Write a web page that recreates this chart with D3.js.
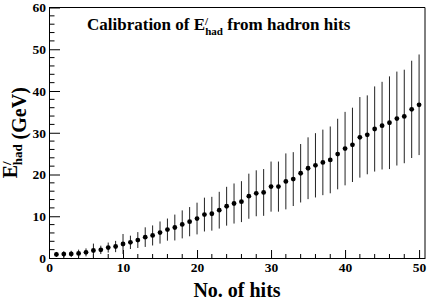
<!DOCTYPE html>
<html>
<head>
<meta charset="utf-8">
<script src="https://cdn.jsdelivr.net/npm/d3@7"></script>
<style>
  body { margin: 0; background: #fff; }
</style>
</head>
<body>
<div id="chart"></div>
<script>
// data

var hits = [1, 2, 3, 4, 5, 6, 7, 8, 9, 10,
  11, 12, 13, 14, 15, 16, 17, 18, 19, 20,
  21, 22, 23, 24, 25, 26, 27, 28, 29, 30,
  31, 32, 33, 34, 35, 36, 37, 38, 39, 40,
  41, 42, 43, 44, 45, 46, 47, 48, 49, 50];

var ehad = [0.85, 0.93, 0.98, 1.1, 1.35, 1.8, 1.95, 2.5, 2.75, 3.35,
  3.75, 4.3, 5.0, 5.4, 6.1, 6.8, 7.3, 8.05, 8.7, 9.45,
  10.4, 10.6, 11.45, 12.4, 13.05, 13.5, 14.8, 15.5, 15.7, 17.1,
  17.1, 18.35, 18.9, 20.3, 21.5, 22.2, 22.9, 23.5, 24.9, 26.2,
  27.1, 28.9, 29.5, 30.9, 31.7, 32.4, 33.4, 33.9, 35.6, 36.7];

var ehadErr = [0.6, 0.7, 0.75, 0.9, 0.95, 1.65, 1.0, 1.2, 1.35, 2.4,
  1.6, 1.9, 2.35, 2.4, 2.65, 2.65, 3.1, 3.35, 3.5, 3.8,
  4.05, 4.05, 4.4, 4.65, 4.8, 4.9, 5.4, 5.5, 5.6, 6.0,
  6.0, 6.7, 6.45, 7.0, 7.4, 7.7, 7.85, 8.0, 8.45, 8.8,
  8.9, 9.65, 9.45, 10.2, 10.5, 11.1, 11.25, 11.2, 11.65, 12.05];

var xMajor = [0, 10, 20, 30, 40, 50];
var yMajor = [0, 10, 20, 30, 40, 50, 60];

var serif = "'Liberation Serif', 'Times New Roman', 'DejaVu Serif', serif";

// set up frame

var width = 436,
  height = 300;

var margin = {left: 49, right: 11, top: 7.5, bottom: 42};

var x = d3.scaleLinear()
    .domain([0, 50.8])
    .range([margin.left, width - margin.right]);

var y = d3.scaleLinear()
    .domain([0, 60])
    .range([height - margin.bottom, margin.top]);

var svg = d3.select("#chart").append("svg")
    .attr("width", width)
    .attr("height", height);

// x axis, ticks point into the frame

var xAxis = d3.axisBottom(x)
    .tickValues(xMajor)
    .tickSize(-8)
    .tickPadding(4)
    .tickSizeOuter(0);

var gx = svg.append("g")
    .attr("transform", "translate(0," + y(0) + ")")
    .call(xAxis);

gx.selectAll("line.minor")
    .data(d3.range(0, 51, 2).filter(function(d) { return d % 10 != 0; }))
    .enter().append("line")
    .attr("class", "minor")
    .attr("x1", function(d) { return x(d); })
    .attr("x2", function(d) { return x(d); })
    .attr("y1", 0)
    .attr("y2", -4)
    .attr("stroke", "#000");

// y axis

var yAxis = d3.axisLeft(y)
    .tickValues(yMajor)
    .tickSize(-11)
    .tickPadding(3)
    .tickSizeOuter(0);

var gy = svg.append("g")
    .attr("transform", "translate(" + x(0) + ",0)")
    .call(yAxis);

gy.selectAll("line.minor")
    .data(d3.range(0, 61, 2).filter(function(d) { return d % 10 != 0; }))
    .enter().append("line")
    .attr("class", "minor")
    .attr("x1", 0)
    .attr("x2", 5.5)
    .attr("y1", function(d) { return y(d); })
    .attr("y2", function(d) { return y(d); })
    .attr("stroke", "#000");

svg.selectAll("g.tick text")
    .attr("font-size", 13.5)
    .style("font-family", serif)
    .style("font-weight", "bold")
    .attr("fill", "#000");

svg.selectAll(".domain").attr("stroke", "#000");

// top and right edges of the frame

svg.append("path")
    .attr("d", "M" + x(0) + "," + y(60) + "H" + x(50.8) + "V" + y(0))
    .attr("fill", "none")
    .attr("stroke", "#000");

// error bars and markers

var pts = hits.map(function(h, i) {
  return {n: h, v: ehad[i], e: ehadErr[i]};
});

svg.append("g")
    .selectAll("line")
    .data(pts)
    .enter().append("line")
    .attr("x1", function(d) { return x(d.n); })
    .attr("x2", function(d) { return x(d.n); })
    .attr("y1", function(d) { return y(d.v - d.e); })
    .attr("y2", function(d) { return y(d.v + d.e); })
    .attr("stroke", "#222")
    .attr("stroke-width", 1);

svg.append("g")
    .selectAll("circle")
    .data(pts)
    .enter().append("circle")
    .attr("cx", function(d) { return x(d.n); })
    .attr("cy", function(d) { return y(d.v); })
    .attr("r", 2.4)
    .attr("fill", "#000");

// title

var title = svg.append("text")
    .attr("x", 87)
    .attr("y", 30)
    .attr("font-size", 17);

title.append("tspan").text("Calibration of E");
title.append("tspan").attr("font-size", 11).attr("dy", -5).text("/");
title.append("tspan").attr("font-size", 11).attr("dx", -3).attr("dy", 10).text("had");
title.append("tspan").attr("dy", -5).text(" from hadron hits");

// axis labels

svg.append("text")
    .attr("x", (x(0) + x(50.8)) / 2)
    .attr("y", 297)
    .attr("text-anchor", "middle")
    .attr("font-size", 20)
    .text("No. of hits");

var ylab = svg.append("text")
    .attr("transform", "translate(26," + (y(0) + y(60)) / 2 + ") rotate(-90)")
    .attr("text-anchor", "middle")
    .attr("font-size", 20);

ylab.append("tspan").attr("dy", -9).text("E");
ylab.append("tspan").attr("font-size", 13).attr("dy", -6).text("/");
ylab.append("tspan").attr("font-size", 13).attr("dx", -4).attr("dy", 11).text("had");
ylab.append("tspan").attr("dy", 4).text(" (GeV)");

svg.selectAll("svg > text")
    .style("font-family", serif)
    .style("font-weight", "bold")
    .attr("fill", "#000");
</script>
</body>
</html>
